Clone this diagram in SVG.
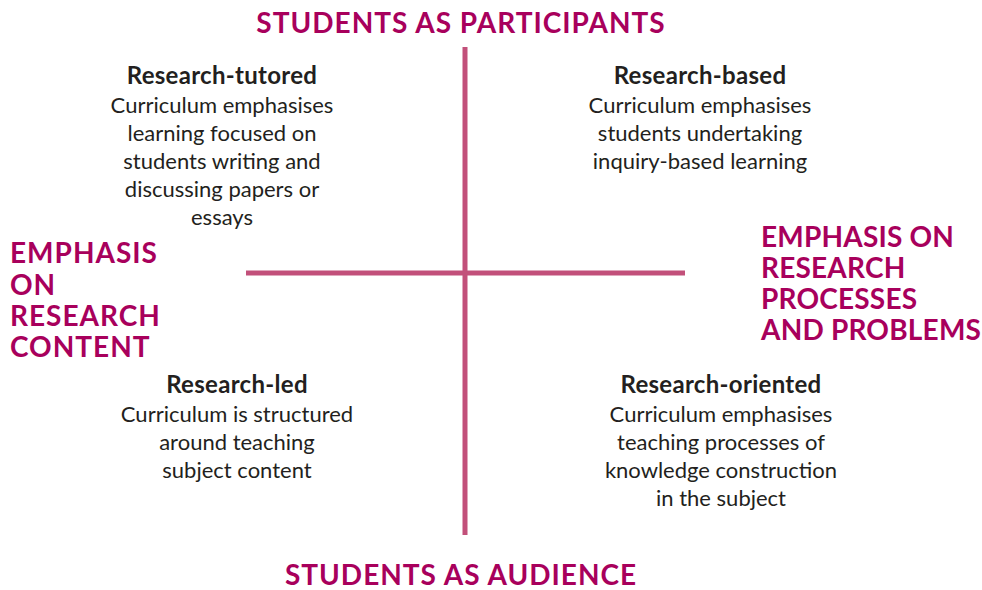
<svg xmlns="http://www.w3.org/2000/svg" width="982" height="590" viewBox="0 0 982 590">
<style>
.h{font-family:Lato,"Open Sans","Liberation Sans",sans-serif;font-weight:bold;font-size:28px;letter-spacing:1px;fill:#A8005C}
.r{letter-spacing:0.2px}
.t{font-family:Lato,"Open Sans","Liberation Sans",sans-serif;font-size:22px;fill:#231F20;text-anchor:middle}
.b{font-weight:bold;font-size:24px;letter-spacing:0.3px}
.ax{stroke:#C2507A;stroke-width:5;fill:none}
</style>
<rect width="982" height="590" fill="#fff"/>
<g id="connectors">
<line class="ax" x1="465" y1="47" x2="465" y2="535"/>
<line class="ax" x1="246" y1="273" x2="685" y2="273"/>
</g>
<g id="top-label"><text class="h" x="461" y="33" text-anchor="middle">STUDENTS AS PARTICIPANTS</text></g>
<g id="bottom-label"><text class="h" x="461" y="585" text-anchor="middle">STUDENTS AS AUDIENCE</text></g>
<g id="left-label"><text class="h" x="10"><tspan x="10" y="263">EMPHASIS</tspan><tspan x="10" y="295">ON</tspan><tspan x="10" y="326">RESEARCH</tspan><tspan x="10" y="357">CONTENT</tspan></text></g>
<g id="right-label"><text class="h r" x="761"><tspan x="761" y="247">EMPHASIS ON</tspan><tspan x="761" y="278">RESEARCH</tspan><tspan x="761" y="309">PROCESSES</tspan><tspan x="761" y="340">AND PROBLEMS</tspan></text></g>
<g id="research-tutored"><text class="t"><tspan class="b" x="222" y="84">Research-tutored</tspan><tspan x="222" y="113">Curriculum emphasises</tspan><tspan x="222" y="141">learning focused on</tspan><tspan x="222" y="169">students writing and</tspan><tspan x="222" y="197">discussing papers or</tspan><tspan x="222" y="225">essays</tspan></text></g>
<g id="research-based"><text class="t"><tspan class="b" x="700" y="84">Research-based</tspan><tspan x="700" y="113">Curriculum emphasises</tspan><tspan x="700" y="141">students undertaking</tspan><tspan x="700" y="169">inquiry-based learning</tspan></text></g>
<g id="research-led"><text class="t"><tspan class="b" x="237" y="393">Research-led</tspan><tspan x="237" y="422">Curriculum is structured</tspan><tspan x="237" y="450">around teaching</tspan><tspan x="237" y="478">subject content</tspan></text></g>
<g id="research-oriented"><text class="t"><tspan class="b" x="721" y="393">Research-oriented</tspan><tspan x="721" y="422">Curriculum emphasises</tspan><tspan x="721" y="450">teaching processes of</tspan><tspan x="721" y="478">knowledge construction</tspan><tspan x="721" y="506">in the subject</tspan></text></g>
</svg>
